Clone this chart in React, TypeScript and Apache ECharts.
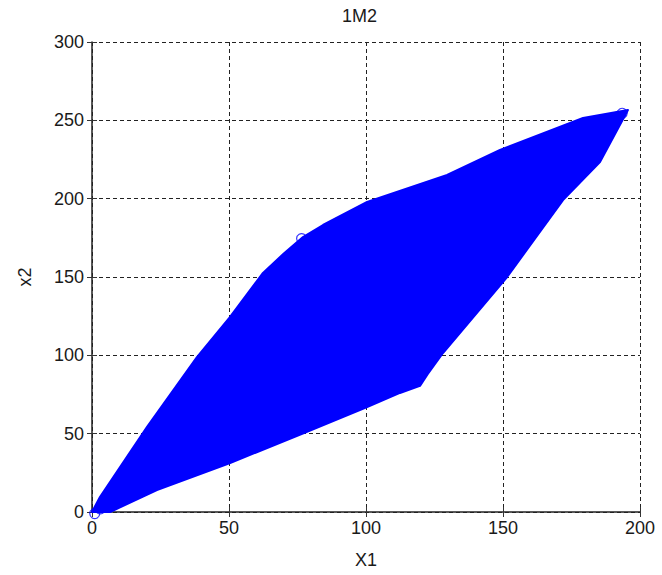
import React, { useEffect, useRef } from "react";
import * as echarts from "echarts";

// Outline of the point cloud, going round clockwise from the origin
const outlineX = [0, 2.9, 20.1, 38.3, 50.4, 62.4, 70.0, 77.0, 84.3, 100.4, 129.6, 148.9, 179.2, 195.6, 185.4, 171.9, 151.5, 128.1, 122.5, 119.7, 112.4, 100.4, 78.5, 50.4, 23.7, 6.6];
const outlineY = [0, 9.6, 54.3, 98.9, 124.5, 152.6, 165.0, 175.5, 183.2, 197.9, 215.1, 231.1, 251.5, 256.6, 223.4, 199.1, 150.0, 101.5, 88.0, 80.5, 76.0, 67.0, 51.1, 31.3, 14.0, 0];

// A few single markers that stand out of the cloud
const ringX = [76.5, 193.5, 191.5, 1.0, 3.0];
const ringY = [174.5, 254.5, 252.0, -1.0, 2.0];

const xTicks = [0, 50, 100, 150, 200];
const yTicks = [0, 50, 100, 150, 200, 250, 300];

const FONT = "Liberation Sans, Arial, sans-serif";
const TXT = "#1a1a1a";

export default function App() {
  const ref = useRef<HTMLDivElement>(null);
  useEffect(() => {
    if (!ref.current) return;
    const chart = echarts.init(ref.current, null, { renderer: "svg" });
    const pts = outlineX.map((x, i) => [x, outlineY[i]]);
    const rings = ringX.map((x, i) => [x, ringY[i]]);
    const grid = { left: 92, right: 22, top: 42, bottom: 63 };
    const split = { show: true, lineStyle: { color: "#222", type: [4, 3] as any, width: 1 } };
    chart.setOption({
      animation: false,
      backgroundColor: "#fff",
      title: {
        text: "1M2",
        left: 337,
        top: 2,
        textStyle: { fontFamily: FONT, fontSize: 18, fontWeight: "normal", color: TXT },
      },
      grid,
      xAxis: [
        {
          type: "value",
          min: xTicks[0],
          max: xTicks[xTicks.length - 1],
          interval: 50,
          name: "X1",
          nameLocation: "middle",
          nameGap: 39,
          nameTextStyle: { fontFamily: FONT, fontSize: 18, color: TXT },
          axisLine: { show: true, onZero: false, lineStyle: { color: "#222", width: 1.5 } },
          axisTick: { show: true, inside: true, length: 5, lineStyle: { color: "#333" } },
          axisLabel: { fontFamily: FONT, fontSize: 18, color: TXT, margin: 7 },
          splitLine: split,
        },
        {
          type: "value",
          position: "top",
          min: xTicks[0],
          max: xTicks[xTicks.length - 1],
          interval: 50,
          axisLine: { show: false },
          axisTick: { show: true, inside: true, length: 5, lineStyle: { color: "#333" } },
          axisLabel: { show: false },
          splitLine: { show: false },
        },
      ],
      yAxis: [
        {
          type: "value",
          min: yTicks[0],
          max: yTicks[yTicks.length - 1],
          interval: 50,
          name: "x2",
          nameLocation: "middle",
          nameGap: 58,
          nameTextStyle: { fontFamily: FONT, fontSize: 18, color: TXT },
          axisLine: { show: true, onZero: false, lineStyle: { color: "#222", width: 1.5 } },
          axisTick: { show: true, inside: true, length: 5, lineStyle: { color: "#333" } },
          axisLabel: { fontFamily: FONT, fontSize: 18, color: TXT, margin: 8 },
          splitLine: split,
        },
        {
          type: "value",
          position: "right",
          min: yTicks[0],
          max: yTicks[yTicks.length - 1],
          interval: 50,
          axisLine: { show: false },
          axisTick: { show: true, inside: true, length: 5, lineStyle: { color: "#333" } },
          axisLabel: { show: false },
          splitLine: { show: false },
        },
      ],
      series: [
        {
          type: "custom",
          data: pts,
          encode: { x: 0, y: 1 },
          clip: false,
          renderItem: (params: any, api: any) => {
            if (params.dataIndex !== 0) return null;
            const poly = pts.map((p) => api.coord(p));
            return {
              type: "polygon",
              shape: { points: poly },
              style: { fill: "#0000ff", stroke: "#0000ff", lineWidth: 2, lineJoin: "round" },
            };
          },
        },
        {
          type: "scatter",
          data: rings,
          symbol: "circle",
          symbolSize: 10,
          clip: false,
          itemStyle: { color: "rgba(0,0,0,0)", borderColor: "#0000ff", borderWidth: 1.2 },
        },
      ],
    });
    return () => chart.dispose();
  }, []);
  return <div ref={ref} style={{ width: 662, height: 575, position: "absolute", left: 0, top: 0 }} />;
}
